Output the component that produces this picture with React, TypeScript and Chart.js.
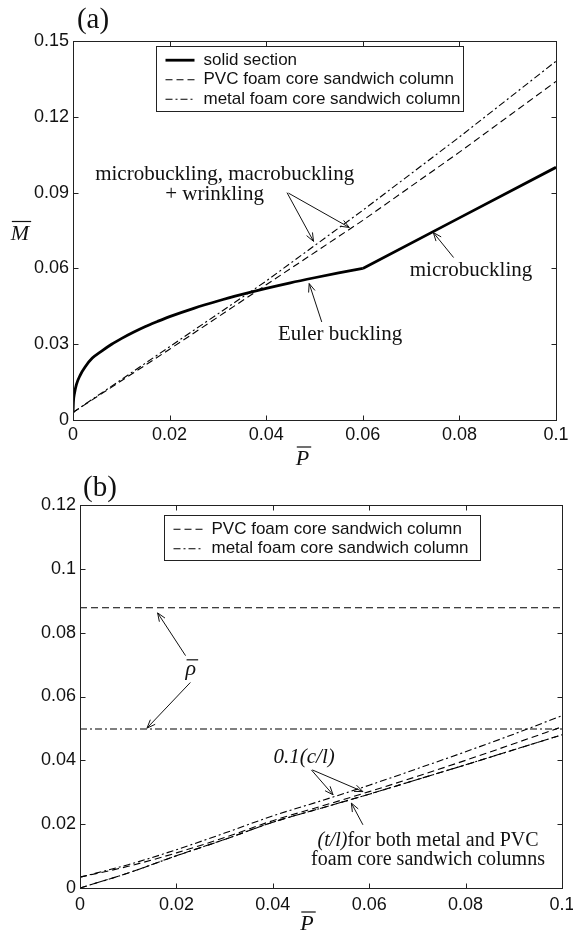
import React, { useEffect, useRef } from 'react';
import { Chart, registerables } from 'chart.js';

Chart.register(...registerables);

// ---------- Panel (a) data ----------
const X_TICKS_A = [0, 0.02, 0.04, 0.06, 0.08, 0.1];
const X_TICK_LABELS_A = ['0', '0.02', '0.04', '0.06', '0.08', '0.1'];
const Y_TICKS_A = [0, 0.03, 0.06, 0.09, 0.12, 0.15];
const Y_TICK_LABELS_A = ['0', '0.03', '0.06', '0.09', '0.12', '0.15'];

const P_SOLID_EULER = [0, 0.0001, 0.0003, 0.0007, 0.0015, 0.0025, 0.004, 0.006, 0.008, 0.01, 0.0125, 0.015, 0.0175, 0.02, 0.025, 0.03, 0.035, 0.04, 0.045, 0.05, 0.055, 0.06];
const M_SOLID_EULER = [0.0028, 0.0075, 0.0105, 0.014, 0.0178, 0.021, 0.0245, 0.0274, 0.03, 0.0322, 0.0347, 0.037, 0.039, 0.0409, 0.0442, 0.0471, 0.0497, 0.0521, 0.0543, 0.0563, 0.0582, 0.06];
const P_SOLID_MICRO = [0.06, 0.08, 0.1];
const M_SOLID_MICRO = [0.06, 0.08, 0.1];
const P_SANDWICH_A = [0, 0.02, 0.04, 0.06, 0.08, 0.1];
const M_PVC_A = [0.003, 0.028, 0.0535, 0.079, 0.106, 0.134];
const M_METAL_A = [0.003, 0.029, 0.055, 0.083, 0.112, 0.142];

// ---------- Panel (b) data ----------
const X_TICKS_B = [0, 0.02, 0.04, 0.06, 0.08, 0.1];
const X_TICK_LABELS_B = ['0', '0.02', '0.04', '0.06', '0.08', '0.1'];
const Y_TICKS_B = [0, 0.02, 0.04, 0.06, 0.08, 0.1, 0.12];
const Y_TICK_LABELS_B = ['0', '0.02', '0.04', '0.06', '0.08', '0.1', '0.12'];

const P_RHO = [0, 0.1];
const RHO_PVC = [0.0878, 0.0878];
const RHO_METAL = [0.0498, 0.0498];
const P_B = [0, 0.01, 0.02, 0.03, 0.04, 0.05, 0.06, 0.07, 0.08, 0.09, 0.1];
const CL_METAL = [0.0034, 0.0073, 0.012, 0.0172, 0.0226, 0.0273, 0.0322, 0.0374, 0.0427, 0.0482, 0.054];
const CL_PVC = [0.0034, 0.0068, 0.011, 0.0158, 0.0211, 0.0256, 0.0302, 0.035, 0.04, 0.0452, 0.0505];
const TL_BOTH = [0, 0.0047, 0.0101, 0.0152, 0.0206, 0.025, 0.0294, 0.034, 0.0386, 0.0433, 0.048];

const DASH = [7, 4];
const DASH_DOT = [7, 3, 2, 3];

type Part = { text: string; italic?: boolean };
type Label = { x: number; y: number; parts: Part[]; size: number; align?: 'left' | 'center' | 'right'; overbar?: boolean };
type Arrow = { from: [number, number]; to: [number, number] };

const LABELS_A: Label[] = [
  { x: 0.0314, y: 0.0973, parts: [{ text: 'microbuckling, macrobuckling' }], size: 21 },
  { x: 0.0293, y: 0.0894, parts: [{ text: '+ wrinkling' }], size: 21 },
  { x: 0.0824, y: 0.059, parts: [{ text: 'microbuckling' }], size: 21 },
  { x: 0.0553, y: 0.034, parts: [{ text: 'Euler buckling' }], size: 21 },
];
const ARROWS_A: Arrow[] = [
  { from: [0.0443, 0.09], to: [0.0498, 0.0707] },
  { from: [0.0446, 0.0898], to: [0.0572, 0.0762] },
  { from: [0.0788, 0.0643], to: [0.0746, 0.0742] },
  { from: [0.0515, 0.0388], to: [0.0489, 0.054] },
];

const LABELS_B: Label[] = [
  { x: 0.023, y: 0.0686, parts: [{ text: 'ρ', italic: true }], size: 22, overbar: true },
  { x: 0.0465, y: 0.0409, parts: [{ text: '0.1(c/l)', italic: true }], size: 21 },
  { x: 0.0722, y: 0.0148, parts: [{ text: '(t/l)', italic: true }, { text: 'for both metal and PVC' }], size: 20 },
  { x: 0.0722, y: 0.0089, parts: [{ text: 'foam core sandwich columns' }], size: 20 },
];
const ARROWS_B: Arrow[] = [
  { from: [0.0219, 0.0728], to: [0.0161, 0.0862] },
  { from: [0.0229, 0.0644], to: [0.0139, 0.0501] },
  { from: [0.048, 0.037], to: [0.0525, 0.0292] },
  { from: [0.0482, 0.037], to: [0.0587, 0.0302] },
  { from: [0.0587, 0.0198], to: [0.0563, 0.0266] },
];

const pts = (xs: number[], ys: number[]) => xs.map((x, i) => ({ x, y: ys[i] }));

type Spec = {
  title: string;
  titleDx: number;
  titleDy: number;
  xLabelDx: number;
  xLabelDy: number;
  yLabel?: { dx: number; dy: number };
  legend: { dx: number; dy: number; width: number };
  labels: Label[];
  arrows: Arrow[];
};

function drawParts(ctx: CanvasRenderingContext2D, parts: Part[], x: number, y: number, size: number, align: string) {
  const fonts = parts.map((p) => `${p.italic ? 'italic ' : ''}${size}px "Liberation Serif"`);
  const widths = parts.map((p, i) => {
    ctx.font = fonts[i];
    return ctx.measureText(p.text).width;
  });
  const total = widths.reduce((a, b) => a + b, 0);
  let cx = align === 'center' ? x - total / 2 : align === 'right' ? x - total : x;
  const left = cx;
  ctx.textAlign = 'left';
  ctx.textBaseline = 'middle';
  parts.forEach((p, i) => {
    ctx.font = fonts[i];
    ctx.fillText(p.text, cx, y);
    cx += widths[i];
  });
  return { left, width: total };
}

function drawOverbar(ctx: CanvasRenderingContext2D, left: number, width: number, y: number) {
  ctx.save();
  ctx.setLineDash([]);
  ctx.lineWidth = 1.2;
  ctx.strokeStyle = '#111';
  ctx.beginPath();
  ctx.moveTo(left + 1, y);
  ctx.lineTo(left + width + 2, y);
  ctx.stroke();
  ctx.restore();
}

function drawArrow(ctx: CanvasRenderingContext2D, x1: number, y1: number, x2: number, y2: number) {
  const ang = Math.atan2(y2 - y1, x2 - x1);
  const len = 9;
  const spread = 0.38;
  ctx.beginPath();
  ctx.moveTo(x1, y1);
  ctx.lineTo(x2, y2);
  ctx.moveTo(x2 - len * Math.cos(ang - spread), y2 - len * Math.sin(ang - spread));
  ctx.lineTo(x2, y2);
  ctx.lineTo(x2 - len * Math.cos(ang + spread), y2 - len * Math.sin(ang + spread));
  ctx.stroke();
}

function makePlugin(spec: Spec) {
  return {
    id: 'figure',
    afterDraw(chart: any) {
      const ctx: CanvasRenderingContext2D = chart.ctx;
      const a = chart.chartArea;
      const xs = chart.scales.x;
      const ys = chart.scales.y;
      ctx.save();
      ctx.strokeStyle = '#222';
      ctx.fillStyle = '#111';
      ctx.lineWidth = 1;
      ctx.setLineDash([]);
      // frame
      const L = Math.round(a.left) + 0.5;
      const R = Math.round(a.right) + 0.5;
      const T = Math.round(a.top) + 0.5;
      const B = Math.round(a.bottom) + 0.5;
      ctx.strokeRect(L, T, R - L, B - T);
      // inward ticks on all four sides
      ctx.beginPath();
      xs.ticks.forEach((t: any) => {
        const px = Math.round(xs.getPixelForValue(t.value)) + 0.5;
        ctx.moveTo(px, B);
        ctx.lineTo(px, B - 5);
        ctx.moveTo(px, T);
        ctx.lineTo(px, T + 5);
      });
      ys.ticks.forEach((t: any) => {
        const py = Math.round(ys.getPixelForValue(t.value)) + 0.5;
        ctx.moveTo(L, py);
        ctx.lineTo(L + 5, py);
        ctx.moveTo(R, py);
        ctx.lineTo(R - 5, py);
      });
      ctx.stroke();

      // legend from datasets flagged for it
      const items = chart.data.datasets.filter((d: any) => d.inLegend);
      const lx = Math.round(a.left + spec.legend.dx) + 0.5;
      const ly = Math.round(a.top + spec.legend.dy) + 0.5;
      const lh = Math.round(items.length * 19.5 + 6);
      ctx.fillStyle = '#fff';
      ctx.fillRect(lx, ly, spec.legend.width, lh);
      ctx.strokeStyle = '#222';
      ctx.strokeRect(lx, ly, spec.legend.width, lh);
      items.forEach((d: any, i: number) => {
        const y = ly + 13.7 + i * 19.5;
        ctx.save();
        ctx.strokeStyle = '#000';
        ctx.lineWidth = d.borderWidth;
        ctx.setLineDash(d.borderDash || []);
        ctx.beginPath();
        ctx.moveTo(lx + 9, y);
        ctx.lineTo(lx + 38, y);
        ctx.stroke();
        ctx.restore();
        ctx.fillStyle = '#111';
        ctx.font = '17px "Liberation Sans"';
        ctx.textAlign = 'left';
        ctx.textBaseline = 'middle';
        ctx.fillText(d.label, lx + 47, y);
      });

      // annotations
      ctx.fillStyle = '#111';
      spec.labels.forEach((lb) => {
        const px = xs.getPixelForValue(lb.x);
        const py = ys.getPixelForValue(lb.y);
        const r = drawParts(ctx, lb.parts, px, py, lb.size, lb.align || 'center');
        if (lb.overbar) drawOverbar(ctx, r.left, r.width, py - lb.size * 0.42);
      });
      ctx.strokeStyle = '#111';
      ctx.lineWidth = 1;
      spec.arrows.forEach((ar) => {
        drawArrow(
          ctx,
          xs.getPixelForValue(ar.from[0]),
          ys.getPixelForValue(ar.from[1]),
          xs.getPixelForValue(ar.to[0]),
          ys.getPixelForValue(ar.to[1])
        );
      });

      // panel title
      ctx.fillStyle = '#111';
      ctx.font = '29px "Liberation Serif"';
      ctx.textAlign = 'center';
      ctx.textBaseline = 'middle';
      ctx.fillText(spec.title, a.left + spec.titleDx, a.top + spec.titleDy);

      // axis labels with overbars
      const xr = drawParts(ctx, [{ text: 'P', italic: true }], (a.left + a.right) / 2 + spec.xLabelDx, a.bottom + spec.xLabelDy, 22, 'center');
      drawOverbar(ctx, xr.left, xr.width, a.bottom + spec.xLabelDy - 12);
      if (spec.yLabel) {
        const yy = (a.top + a.bottom) / 2 + spec.yLabel.dy;
        const yr = drawParts(ctx, [{ text: 'M', italic: true }], a.left + spec.yLabel.dx, yy, 22, 'center');
        drawOverbar(ctx, yr.left, yr.width, yy - 13);
      }
      ctx.restore();
    },
  };
}

function axes(xTicks: number[], xLabels: string[], yTicks: number[], yLabels: string[], yMax: number, yWidth: number, xHeight: number, xPad: number) {
  const tickFont = { family: 'Liberation Sans', size: 18 };
  return {
    x: {
      type: 'linear',
      min: 0,
      max: 0.1,
      grid: { display: false, drawTicks: false },
      border: { display: false },
      ticks: {
        font: tickFont,
        color: '#111',
        padding: xPad,
        maxRotation: 0,
        autoSkip: false,
        callback: (_v: any, i: number) => xLabels[i],
      },
      afterBuildTicks: (s: any) => {
        s.ticks = xTicks.map((v) => ({ value: v }));
      },
      afterFit: (s: any) => {
        s.height = xHeight;
        s.paddingLeft = 0;
        s.paddingRight = 0;
      },
    },
    y: {
      type: 'linear',
      min: 0,
      max: yMax,
      grid: { display: false, drawTicks: false },
      border: { display: false },
      ticks: {
        font: tickFont,
        color: '#111',
        padding: 4,
        autoSkip: false,
        callback: (_v: any, i: number) => yLabels[i],
      },
      afterBuildTicks: (s: any) => {
        s.ticks = yTicks.map((v) => ({ value: v }));
      },
      afterFit: (s: any) => {
        s.width = yWidth;
        s.paddingTop = 0;
        s.paddingBottom = 0;
      },
    },
  };
}

const line = (label: string, data: any[], width: number, dash: number[], inLegend: boolean, extra: any = {}) => ({
  label,
  data,
  borderColor: '#000',
  backgroundColor: '#000',
  borderWidth: width,
  borderDash: dash,
  pointRadius: 0,
  fill: false,
  tension: 0,
  inLegend,
  ...extra,
});

function configA(): any {
  return {
    type: 'line',
    data: {
      datasets: [
        line('solid section', pts(P_SOLID_EULER, M_SOLID_EULER), 2.8, [], true, { cubicInterpolationMode: 'monotone' }),
        line('solid section (microbuckling)', pts(P_SOLID_MICRO, M_SOLID_MICRO), 2.8, [], false),
        line('PVC foam core sandwich column', pts(P_SANDWICH_A, M_PVC_A), 1.1, DASH, true),
        line('metal foam core sandwich column', pts(P_SANDWICH_A, M_METAL_A), 1.1, DASH_DOT, true),
      ],
    },
    options: {
      responsive: false,
      animation: false,
      events: [],
      layout: { padding: { top: 41, right: 17, left: 0, bottom: 0 } },
      scales: axes(X_TICKS_A, X_TICK_LABELS_A, Y_TICKS_A, Y_TICK_LABELS_A, 0.15, 73, 50, 4),
      plugins: { legend: { display: false }, tooltip: { enabled: false }, title: { display: false } },
    },
    plugins: [
      makePlugin({
        title: '(a)',
        titleDx: 20,
        titleDy: -21,
        xLabelDx: -12,
        xLabelDy: 39,
        yLabel: { dx: -53, dy: 4 },
        legend: { dx: 83, dy: 5, width: 307 },
        labels: LABELS_A,
        arrows: ARROWS_A,
      }),
    ],
  };
}

function configB(): any {
  return {
    type: 'line',
    data: {
      datasets: [
        line('PVC foam core sandwich column', pts(P_RHO, RHO_PVC), 1.1, DASH, true),
        line('metal foam core sandwich column', pts(P_RHO, RHO_METAL), 1.1, DASH_DOT, true),
        line('PVC 0.1(c/l)', pts(P_B, CL_PVC), 1.1, DASH, false, { cubicInterpolationMode: 'monotone' }),
        line('metal 0.1(c/l)', pts(P_B, CL_METAL), 1.1, DASH_DOT, false, { cubicInterpolationMode: 'monotone' }),
        line('PVC (t/l)', pts(P_B, TL_BOTH), 1.1, DASH, false, { cubicInterpolationMode: 'monotone' }),
        line('metal (t/l)', pts(P_B, TL_BOTH), 1.1, DASH_DOT, false, { cubicInterpolationMode: 'monotone' }),
      ],
    },
    options: {
      responsive: false,
      animation: false,
      events: [],
      layout: { padding: { top: 35, right: 11, left: 0, bottom: 0 } },
      scales: axes(X_TICKS_B, X_TICK_LABELS_B, Y_TICKS_B, Y_TICK_LABELS_B, 0.12, 80, 44, 6),
      plugins: { legend: { display: false }, tooltip: { enabled: false }, title: { display: false } },
    },
    plugins: [
      makePlugin({
        title: '(b)',
        titleDx: 20,
        titleDy: -17,
        xLabelDx: -14,
        xLabelDy: 36,
        legend: { dx: 84, dy: 10, width: 316 },
        labels: LABELS_B,
        arrows: ARROWS_B,
      }),
    ],
  };
}

export default function App() {
  const refA = useRef<HTMLCanvasElement>(null);
  const refB = useRef<HTMLCanvasElement>(null);
  useEffect(() => {
    const ca = new Chart(refA.current as HTMLCanvasElement, configA());
    const cb = new Chart(refB.current as HTMLCanvasElement, configB());
    return () => {
      ca.destroy();
      cb.destroy();
    };
  }, []);
  return (
    <div style={{ position: 'absolute', left: 0, top: 0, width: 573, height: 932, background: '#fff', overflow: 'hidden' }}>
      <canvas ref={refA} width={573} height={470} style={{ position: 'absolute', left: 0, top: 0, display: 'block' }} />
      <canvas ref={refB} width={573} height={462} style={{ position: 'absolute', left: 0, top: 470, display: 'block' }} />
    </div>
  );
}
